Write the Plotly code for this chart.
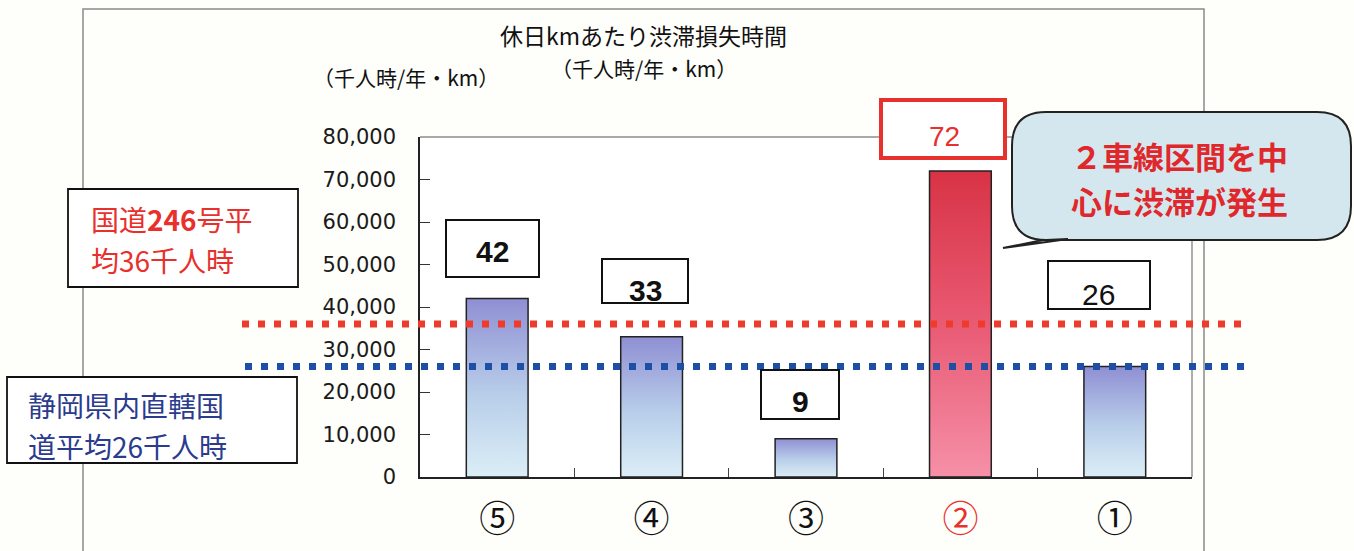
import plotly.graph_objects as go

# ---- data -------------------------------------------------------------
SECTIONS = ["⑤", "④", "③", "②", "①"]
LOSS_PER_KM = [42000, 33000, 9000, 72000, 26000]      # 千人時/年・km
HIGHLIGHT = "②"
AVG_ROUTE246 = 36000          # 国道246号平均
AVG_SHIZUOKA = 26000          # 静岡県内直轄国道平均
Y_TICKS = [0, 10000, 20000, 30000, 40000, 50000, 60000, 70000, 80000]

# ---- canvas geometry (pixels) ------------------------------------------
W, H = 1354, 551
ML, MR, MT, MB = 420, 162, 137, 74
PW, PH = W - ML - MR, H - MT - MB

def px(x):
    return (x - ML) / PW

def py(y):
    return (H - MB - y) / PH

RED = "#e8302c"
BLUE_DOT = "#1d4fa6"
NAVY = "#2b3b8e"
JP = "Noto Sans CJK JP"
NUM = "Liberation Sans"

BLUE_SCALE = [[0, "#dbeef6"], [0.45, "#b9cfea"], [1, "#8f8fd3"]]
RED_SCALE = [[0, "#f590a8"], [0.5, "#e95a73"], [1, "#d83345"]]
BAR_W = 0.4

fig = go.Figure()

# gradient bodies of the bars
for i, (name, v) in enumerate(zip(SECTIONS, LOSS_PER_KM)):
    scale = RED_SCALE if name == HIGHLIGHT else BLUE_SCALE
    fig.add_trace(go.Scatter(
        x=[i - BAR_W / 2, i - BAR_W / 2, i + BAR_W / 2, i + BAR_W / 2],
        y=[0, v, v, 0],
        fill="toself", mode="lines", line=dict(width=0),
        fillgradient=dict(type="vertical", colorscale=scale),
        hoverinfo="skip", showlegend=False,
    ))

# bar outlines on an overlaid copy of the axes
fig.add_trace(go.Bar(
    x=list(range(len(SECTIONS))), y=LOSS_PER_KM, width=BAR_W,
    marker=dict(color="rgba(0,0,0,0)", line=dict(color="#222", width=1.5)),
    xaxis="x2", yaxis="y2", showlegend=False,
    customdata=SECTIONS, hovertemplate="%{customdata}: %{y:,}<extra></extra>",
))

ticktext = [f'<span style="color:{RED}">{s}</span>' if s == HIGHLIGHT else s
            for s in SECTIONS]

fig.update_layout(
    width=W, height=H,
    margin=dict(l=ML, r=MR, t=MT, b=MB),
    paper_bgcolor="#fefefb", plot_bgcolor="white",
    showlegend=False,
    xaxis=dict(
        range=[-0.5, len(SECTIONS) - 0.5], automargin=False,
        tickvals=list(range(len(SECTIONS))), ticktext=ticktext,
        ticks="", showgrid=False, zeroline=False,
        showline=True, linecolor="#222", linewidth=1.5,
        tickfont=dict(family=JP, size=36, color="#111"),
        ticklabelstandoff=10,
        minor=dict(tickvals=[k + 0.5 for k in range(len(SECTIONS) - 1)],
                   ticks="inside", ticklen=9, tickwidth=1.2, tickcolor="#444"),
    ),
    yaxis=dict(
        range=[0, 80000], tickvals=Y_TICKS, tickformat=",d", automargin=False,
        ticks="inside", ticklen=10, tickwidth=1.2, tickcolor="#333",
        showgrid=False, zeroline=False,
        showline=True, linecolor="#222", linewidth=1.5,
        tickfont=dict(family="DejaVu Sans", size=21, color="#1a1a1a"),
        ticklabelstandoff=18,
    ),
    xaxis2=dict(overlaying="x", range=[-0.5, len(SECTIONS) - 0.5],
                visible=False, automargin=False),
    yaxis2=dict(overlaying="y", range=[0, 80000], visible=False, automargin=False),
)

shapes = []
# outer frame
shapes.append(dict(type="rect", xref="paper", yref="paper",
                   x0=px(83), x1=px(1204), y0=py(9), y1=py(640),
                   line=dict(color="#8a8a8a", width=1.5), layer="below"))
# top / right plot borders
shapes.append(dict(type="line", xref="paper", yref="paper",
                   x0=0, x1=1, y0=1, y1=1, line=dict(color="#555", width=1.2)))
shapes.append(dict(type="line", xref="paper", yref="paper",
                   x0=1, x1=1, y0=0, y1=1, line=dict(color="#777", width=1.2)))

# average reference lines
shapes.append(dict(type="line", xref="paper", yref="y",
                   x0=px(242), x1=px(1242), y0=AVG_ROUTE246, y1=AVG_ROUTE246,
                   line=dict(color="#ef3b2b", width=7, dash="7px,9px")))
shapes.append(dict(type="line", xref="paper", yref="y",
                   x0=px(245), x1=px(1245), y0=AVG_SHIZUOKA, y1=AVG_SHIZUOKA,
                   line=dict(color=BLUE_DOT, width=7, dash="7px,9px")))

annotations = []

def text(x, y, s, size, color="#111", family=JP, weight="normal",
         xanchor="center"):
    annotations.append(dict(
        xref="paper", yref="paper", x=px(x), y=py(y), text=s, showarrow=False,
        xanchor=xanchor, yanchor="middle", borderpad=0,
        font=dict(family=family, size=size, color=color, weight=weight)))

def box(x0, y0, x1, y1, color="#111", width=2):
    shapes.append(dict(type="rect", xref="paper", yref="paper",
                       x0=px(x0), x1=px(x1), y0=py(y0), y1=py(y1),
                       line=dict(color=color, width=width), fillcolor="white"))

# titles
text(643, 35, "休日kmあたり渋滞損失時間", 23)
text(644, 68, "（千人時/年・km）", 21)
text(406, 77, "（千人時/年・km）", 21)

# value label boxes
label_boxes = {
    "⑤": dict(rect=(446, 220, 539, 277), at=(492, 251), bold=True),
    "④": dict(rect=(602, 259, 688, 303), at=(645, 290), bold=True),
    "③": dict(rect=(761, 370, 839, 419), at=(800, 401), bold=True),
    "②": dict(rect=(881, 100, 1005, 158), at=(944, 136), bold=False),
    "①": dict(rect=(1048, 261, 1150, 309), at=(1098, 294), bold=False),
}
for name, v in zip(SECTIONS, LOSS_PER_KM):
    spec = label_boxes[name]
    hot = name == HIGHLIGHT
    box(*spec["rect"], color=RED if hot else "#111", width=4 if hot else 2)
    text(*spec["at"], f"{v // 1000}", 28 if hot else 30,
         color=RED if hot else "#111", family=NUM,
         weight="bold" if spec["bold"] else "normal")

# legend boxes for the reference lines
box(68, 189, 298, 287, width=1.8)
text(90, 219, "国道<b>246</b>号平", 28, color=RED, xanchor="left")
text(90, 260, f"均{AVG_ROUTE246 // 1000}千人時", 28, color=RED, xanchor="left")
box(7, 377, 297, 463, width=1.8)
text(27, 405, "静岡県内直轄国", 28, color=NAVY, xanchor="left")
text(27, 446, f"道平均{AVG_SHIZUOKA // 1000}千人時", 28, color=NAVY, xanchor="left")

# speech-bubble callout
L, R, T, B, r = 1012, 1351, 112, 240, 34
P = lambda x, y: f"{px(x):.5f},{py(y):.5f}"
bubble = (
    f"M {P(L + r, T)} L {P(R - r, T)} Q {P(R, T)} {P(R, T + r)} "
    f"L {P(R, B - r)} Q {P(R, B)} {P(R - r, B)} "
    f"L {P(1043, B)} L {P(1003, 248)} L {P(1068, B - 1)} "
    f"L {P(L + r, B)} Q {P(L, B)} {P(L, B - r)} "
    f"L {P(L, T + r)} Q {P(L, T)} {P(L + r, T)} Z"
)
shapes.append(dict(type="path", xref="paper", yref="paper", path=bubble,
                   fillcolor="#d5e7ee", line=dict(color="#222", width=2)))
text(1179, 155, "２車線区間を中", 31, color="#e0282c", weight="bold")
text(1179, 200, "心に渋滞が発生", 31, color="#e0282c", weight="bold")

fig.update_layout(shapes=shapes, annotations=annotations)
fig.write_html("out.html")
